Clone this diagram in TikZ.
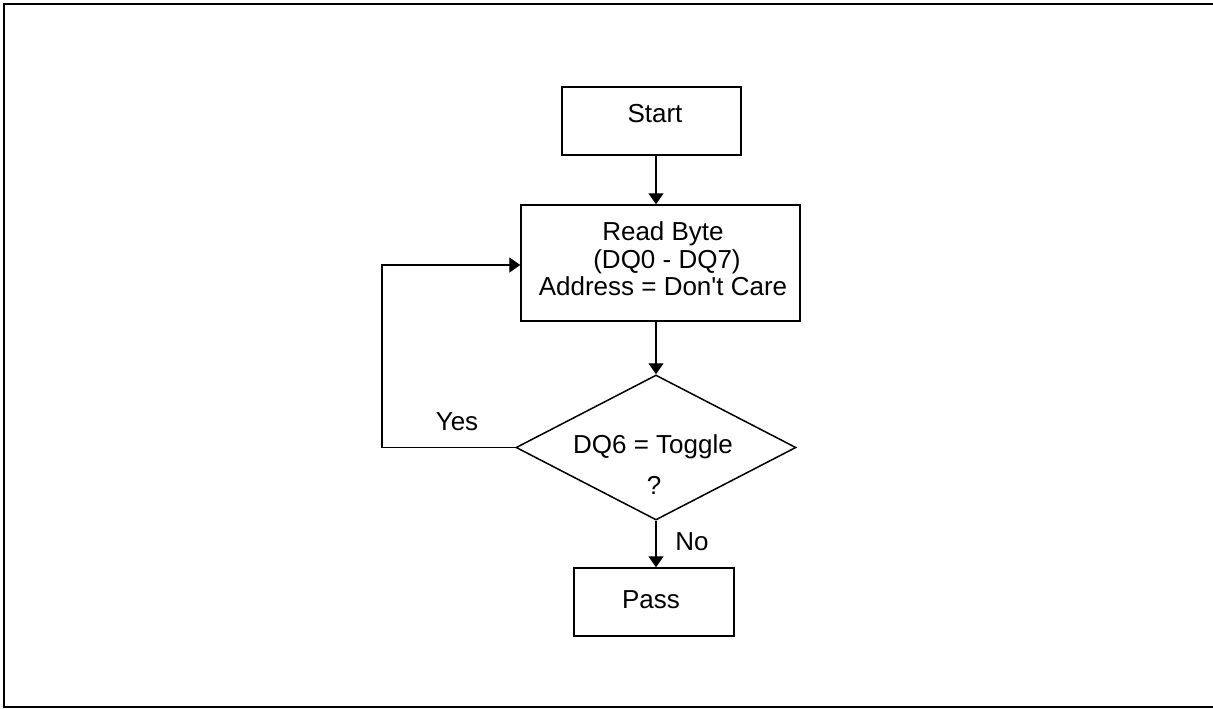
\documentclass[tikz,border=0pt]{standalone}
\usepackage{fontspec}
\setmainfont{Liberation Sans}[Ligatures=TeXOff]
\usetikzlibrary{shapes.geometric,arrows.meta}
\begin{document}
\begin{tikzpicture}[x=1pt,y=-1pt,
  box/.style={draw,line width=1.4pt,inner sep=0pt},
  txt/.style={inner sep=0pt,font=\fontsize{26}{27.5}\selectfont,align=center},
  arr/.style={line width=1.3pt,-{Triangle[width=15pt,length=11pt]}},
  ln/.style={line width=1.3pt}]
\useasboundingbox (0,0) rectangle (1213,709);
\draw[line width=2.6pt] (4,4) rectangle (1214,707);
% nodes
\node[box,minimum width=179pt,minimum height=68pt] (start) at (651.5,121) {};
\node[txt] (starttxt) at (655,114) {Start};
\node[box,minimum width=279pt,minimum height=116pt] (read) at (660.5,263) {};
\node[txt] (readtxt) at (663,259) {Read Byte\\ \hspace*{8pt}(DQ0 - DQ7)\\Address = Don't Care};
\node[box,diamond,minimum width=280pt,minimum height=145pt,line width=1.5pt] (dec) at (656,447.5) {};
\node[txt] (dectxt1) at (653,447) {DQ6 = Toggle};
\node[txt] (dectxt2) at (654,485) {?};
\node[box,minimum width=160pt,minimum height=68pt] (pass) at (654,602) {};
\node[txt] (passtxt) at (651,600) {Pass};
\node[txt] (yes) at (457,422) {Yes};
\node[txt] (no) at (692,542) {No};
\coordinate (c1) at (382,447.5);
\coordinate (c2) at (382,265);
% connectors
\draw[arr] (start.south -| dec.north) -- (read.north -| dec.north);
\draw[arr] (read.south -| dec.north) -- (dec.north);
\draw[arr] (dec.south) -- (pass.north -| dec.south);
\draw[arr] (dec.west) -- (c1) -- (c2) -- (read.west |- c2);
\end{tikzpicture}
\end{document}
